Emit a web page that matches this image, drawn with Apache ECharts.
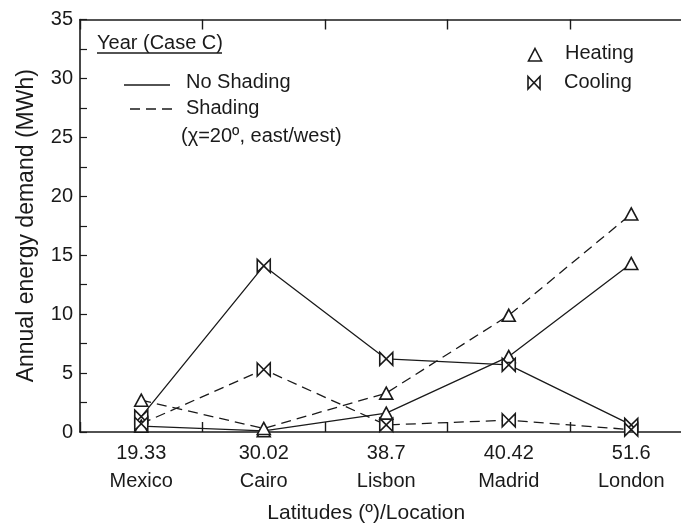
<!DOCTYPE html>
<html>
<head>
<meta charset="utf-8">
<script src="https://cdn.jsdelivr.net/npm/echarts@6/dist/echarts.min.js"></script>
<style>
  html, body { margin: 0; padding: 0; background: #fff; }
  #chart { width: 681px; height: 527px; }
</style>
</head>
<body>
<div id="chart"></div>
<script>
// Locations and their latitudes (degrees)
const categories = ['Mexico', 'Cairo', 'Lisbon', 'Madrid', 'London'];
const latitudes = ['19.33', '30.02', '38.7', '40.42', '51.6'];

// Annual energy demand (MWh), year case C
const heatingNoShading = [0.5, 0.1, 1.6, 6.4, 14.3];
const coolingNoShading = [1.3, 14.1, 6.2, 5.7, 0.6];
const heatingShading = [2.7, 0.3, 3.3, 9.9, 18.5];
const coolingShading = [0.7, 5.3, 0.6, 1.0, 0.2];

const yMin = 0, yMax = 35, yStep = 5;

const INK = '#1a1a1a';
const FONT = '"Liberation Sans", Arial, sans-serif';
const BOWTIE = 'path://M0,0L10,10L10,0L0,10Z';

const chart = echarts.init(document.getElementById('chart'), null, { renderer: 'canvas' });

function lineSeries(name, data, dashed, symbol, size) {
  return {
    name: name,
    type: 'line',
    data: data,
    xAxisIndex: 0,
    yAxisIndex: 0,
    symbol: symbol,
    symbolSize: size,
    showAllSymbol: true,
    lineStyle: { color: INK, width: 1.3, type: dashed ? [10, 6] : 'solid' },
    itemStyle: { color: '#fff', borderColor: INK, borderWidth: 1.6 },
    emphasis: { disabled: true },
    z: 3
  };
}

const axisLineStyle = { show: true, onZero: false, lineStyle: { color: INK, width: 1.6 } };

const option = {
  backgroundColor: '#fff',
  animation: false,
  textStyle: { fontFamily: FONT, color: INK },
  grid: { left: 80, right: -11.5, top: 19.5, bottom: 95, containLabel: false, outerBoundsMode: 'none' },
  xAxis: [
    {
      type: 'category',
      position: 'bottom',
      data: categories,
      boundaryGap: true,
      axisLine: axisLineStyle,
      axisTick: { show: true, inside: true, length: 10, lineStyle: { color: INK, width: 1.4 } },
      axisLabel: {
        margin: 7,
        formatter: function (v, i) { return '{a|' + latitudes[i] + '}\n{b|' + v + '}'; },
        rich: {
          a: { fontSize: 20, fontFamily: FONT, color: INK, lineHeight: 28 },
          b: { fontSize: 20, fontFamily: FONT, color: INK, lineHeight: 28 }
        }
      },
      name: 'Latitudes (º)/Location',
      nameLocation: 'middle',
      nameGap: 71,
      nameTextStyle: { fontSize: 21, fontFamily: FONT, color: INK, padding: [0, 40, 0, 0] }
    },
    {
      type: 'category',
      position: 'top',
      data: categories,
      boundaryGap: true,
      axisLine: axisLineStyle,
      axisTick: { show: true, inside: true, length: 10, lineStyle: { color: INK, width: 1.4 } },
      axisLabel: { show: false }
    }
  ],
  yAxis: [
    {
      type: 'value',
      position: 'left',
      min: yMin,
      max: yMax,
      interval: yStep,
      axisLine: axisLineStyle,
      axisTick: { show: true, inside: true, length: 7, lineStyle: { color: INK, width: 1.2 } },
      minorTick: { show: true, splitNumber: 2, length: 7, lineStyle: { color: INK, width: 1.2 } },
      splitLine: { show: false },
      axisLabel: { margin: 7, fontSize: 20, fontFamily: FONT, color: INK },
      name: 'Annual energy demand (MWh)',
      nameLocation: 'middle',
      nameGap: 42,
      nameTextStyle: { fontSize: 23, fontFamily: FONT, color: INK }
    },
    {
      type: 'value',
      position: 'right',
      min: yMin,
      max: yMax,
      interval: yStep,
      axisLine: axisLineStyle,
      axisTick: { show: true, inside: true, length: 7, lineStyle: { color: INK, width: 1.2 } },
      minorTick: { show: true, splitNumber: 2, length: 7, lineStyle: { color: INK, width: 1.2 } },
      splitLine: { show: false },
      axisLabel: { show: false }
    }
  ],
  series: [
    lineSeries('Heating, no shading', heatingNoShading, false, 'triangle', [13, 12]),
    lineSeries('Cooling, no shading', coolingNoShading, false, BOWTIE, [13, 13]),
    lineSeries('Heating, shading', heatingShading, true, 'triangle', [13, 12]),
    lineSeries('Cooling, shading', coolingShading, true, BOWTIE, [13, 13])
  ],
  graphic: [
    // Case label
    { type: 'text', x: 97, y: 43, style: { text: 'Year (Case C)', font: '20px ' + FONT, fill: INK, align: 'left', verticalAlign: 'middle' } },
    { type: 'line', shape: { x1: 97, y1: 53, x2: 222, y2: 53 }, style: { stroke: INK, lineWidth: 1.3 } },
    // Line-style key
    { type: 'line', shape: { x1: 124, y1: 85, x2: 170, y2: 85 }, style: { stroke: INK, lineWidth: 1.3 } },
    { type: 'text', x: 186, y: 82, style: { text: 'No Shading', font: '20px ' + FONT, fill: INK, align: 'left', verticalAlign: 'middle' } },
    { type: 'line', shape: { x1: 130, y1: 109, x2: 172, y2: 109 }, style: { stroke: INK, lineWidth: 1.3, lineDash: [10, 6] } },
    { type: 'text', x: 186, y: 108, style: { text: 'Shading', font: '20px ' + FONT, fill: INK, align: 'left', verticalAlign: 'middle' } },
    { type: 'text', x: 181, y: 136, style: { text: '(χ=20º, east/west)', font: '20px ' + FONT, fill: INK, align: 'left', verticalAlign: 'middle' } },
    // Marker key
    { type: 'polygon', shape: { points: [[535, 48.5], [541.5, 61], [528.5, 61]] }, style: { fill: '#fff', stroke: INK, lineWidth: 1.6 } },
    { type: 'text', x: 565, y: 53, style: { text: 'Heating', font: '20px ' + FONT, fill: INK, align: 'left', verticalAlign: 'middle' } },
    { type: 'polygon', shape: { points: [[528, 76.5], [540, 89], [540, 76.5], [528, 89]] }, style: { fill: '#fff', stroke: INK, lineWidth: 1.6 } },
    { type: 'text', x: 564, y: 82, style: { text: 'Cooling', font: '20px ' + FONT, fill: INK, align: 'left', verticalAlign: 'middle' } }
  ]
};

chart.setOption(option);
</script>
</body>
</html>
